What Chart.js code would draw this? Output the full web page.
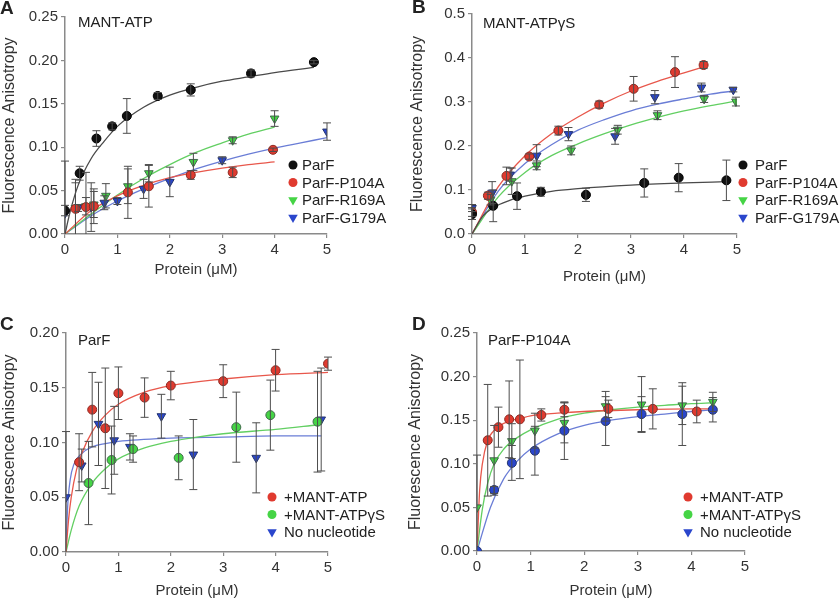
<!DOCTYPE html>
<html>
<head>
<meta charset="utf-8">
<title>Fluorescence anisotropy</title>
<script src="https://cdn.jsdelivr.net/npm/chart.js@4.4.1/dist/chart.umd.min.js"></script>
<style>
  body { margin: 0; background: #fff; }
  #fig { position: relative; width: 840px; height: 600px; font-family: 'Liberation Sans', Arial, sans-serif; color: #222; }
  #fig canvas { position: absolute; }
  .tag { position: absolute; font-size: 15px; line-height: 18px; white-space: nowrap; }
  .letter { position: absolute; font-size: 19px; font-weight: bold; line-height: 20px; }
</style>
</head>
<body>
<div id="fig">
  <canvas id="chartA" width="420" height="300" style="left:0;top:0"></canvas>
  <canvas id="chartB" width="440" height="300" style="left:400px;top:0"></canvas>
  <canvas id="chartC" width="420" height="300" style="left:0;top:300px"></canvas>
  <canvas id="chartD" width="440" height="300" style="left:400px;top:300px"></canvas>
  <div class="letter" style="left:0;top:-2px">A</div>
  <div class="letter" style="left:412px;top:-3px">B</div>
  <div class="letter" style="left:0;top:314px">C</div>
  <div class="letter" style="left:412px;top:314px">D</div>
  <div class="tag" style="left:78px;top:13px">MANT-ATP</div>
  <div class="tag" style="left:483px;top:14px">MANT-ATPγS</div>
  <div class="tag" style="left:78px;top:331px">ParF</div>
  <div class="tag" style="left:488px;top:331px">ParF-P104A</div>
</div>
<script>
// tick labels
const xTicks = ['0', '1', '2', '3', '4', '5'];
const yTicksA = ['0.00', '0.05', '0.10', '0.15', '0.20', '0.25'];
const yTicksB = ['0.0', '0.1', '0.2', '0.3', '0.4', '0.5'];
const yTicksC = ['0.00', '0.05', '0.10', '0.15', '0.20'];
const yTicksD = ['0.00', '0.05', '0.10', '0.15', '0.20', '0.25'];

// ---- panel A : MANT-ATP ----
const aParfX = [0, 0.28, 0.60, 0.90, 1.18, 1.77, 2.40, 3.55, 4.75];
const aParfY = [0.027, 0.070, 0.110, 0.124, 0.136, 0.159, 0.166, 0.185, 0.198];
const aParfErr = [0.006, 0.008, 0.009, 0.004, 0.020, 0.004, 0.007, 0.004, 0.002];
const aParfFitX = [0, 0.1, 0.25, 0.5, 0.75, 1, 1.5, 2, 2.5, 3, 3.5, 4, 4.75];
const aParfFitY = [0, 0.026, 0.056, 0.087, 0.107, 0.124, 0.146, 0.160, 0.169, 0.176, 0.181, 0.186, 0.192];

const aP104X = [0.2, 0.4, 0.55, 1.2, 1.6, 2.4, 3.2, 3.97];
const aP104Y = [0.029, 0.031, 0.032, 0.048, 0.055, 0.068, 0.071, 0.097];
const aP104Err = [0.030, 0.040, 0.020, 0.030, 0.024, 0.005, 0.006, 0.002];
const aP104FitX = [0, 0.5, 1, 1.5, 2, 2.5, 3, 3.5, 4];
const aP104FitY = [0, 0.027, 0.044, 0.056, 0.065, 0.071, 0.076, 0.080, 0.083];

const aR169X = [0.2, 0.4, 0.55, 0.78, 1.2, 1.6, 2.45, 3.2, 4.0];
const aR169Y = [0.030, 0.032, 0.034, 0.044, 0.055, 0.070, 0.083, 0.108, 0.133];
const aR169Err = [0.033, 0.010, 0.015, 0.014, 0.020, 0.010, 0.010, 0.004, 0.009];
const aR169FitX = [0, 0.5, 1, 1.5, 2, 2.5, 3, 3.5, 4];
const aR169FitY = [0, 0.023, 0.045, 0.064, 0.080, 0.094, 0.105, 0.115, 0.123];

const aG179X = [0, 0.25, 0.5, 0.75, 1.0, 1.5, 2.0, 3.0, 5.0];
const aG179Y = [0.024, 0.030, 0.031, 0.036, 0.038, 0.052, 0.060, 0.085, 0.118];
const aG179Err = [0.060, 0.004, 0.028, 0.008, 0.004, 0.011, 0.017, 0.004, 0.010];
const aG179FitX = [0, 0.5, 1, 1.5, 2, 2.5, 3, 3.5, 4, 4.5, 5];
const aG179FitY = [0, 0.021, 0.038, 0.052, 0.064, 0.075, 0.084, 0.092, 0.099, 0.105, 0.111];

// ---- panel B : MANT-ATPγS ----
const bParfX = [0, 0.4, 0.85, 1.3, 2.15, 3.25, 3.9, 4.8];
const bParfY = [0.045, 0.064, 0.086, 0.096, 0.089, 0.116, 0.128, 0.122];
const bParfErr = [0.012, 0.036, 0.030, 0.010, 0.015, 0.032, 0.032, 0.046];
const bParfFitX = [0, 0.2, 0.4, 0.7, 1, 1.5, 2, 3, 4, 4.8];
const bParfFitY = [0, 0.040, 0.060, 0.076, 0.086, 0.097, 0.103, 0.111, 0.116, 0.119];

const bP104X = [0, 0.3, 0.65, 1.08, 1.63, 2.4, 3.05, 3.83, 4.37];
const bP104Y = [0.050, 0.087, 0.132, 0.176, 0.235, 0.294, 0.330, 0.368, 0.384];
const bP104Err = [0.010, 0.008, 0.020, 0.006, 0.010, 0.008, 0.028, 0.035, 0.008];
const bP104FitX = [0, 0.5, 1, 1.5, 2, 2.5, 3, 3.5, 4, 4.37];
const bP104FitY = [0, 0.108, 0.178, 0.228, 0.266, 0.298, 0.325, 0.347, 0.366, 0.380];

const bR169X = [0.35, 0.75, 1.22, 1.87, 2.75, 3.5, 4.38, 4.98];
const bR169Y = [0.078, 0.120, 0.156, 0.190, 0.237, 0.270, 0.307, 0.301];
const bR169Err = [0.012, 0.030, 0.010, 0.010, 0.010, 0.010, 0.008, 0.010];
const bR169FitX = [0, 0.5, 1, 1.5, 2, 2.5, 3, 3.5, 4, 4.5, 4.98];
const bR169FitY = [0, 0.085, 0.140, 0.178, 0.205, 0.228, 0.248, 0.265, 0.280, 0.292, 0.302];

const bG179X = [0, 0.38, 0.72, 1.22, 1.82, 2.7, 3.45, 4.33, 4.93];
const bG179Y = [0.059, 0.094, 0.135, 0.178, 0.227, 0.222, 0.311, 0.333, 0.328];
const bG179Err = [0.008, 0.025, 0.015, 0.025, 0.015, 0.018, 0.015, 0.010, 0.005];
const bG179FitX = [0, 0.5, 1, 1.5, 2, 2.5, 3, 3.5, 4, 4.5, 4.93];
const bG179FitY = [0, 0.098, 0.160, 0.203, 0.236, 0.260, 0.280, 0.295, 0.307, 0.318, 0.325];

// ---- panel C : ParF ----
const cAtpX = [0.25, 0.5, 0.75, 1.0, 1.5, 2.0, 3.0, 4.0, 5.0];
const cAtpY = [0.082, 0.130, 0.113, 0.145, 0.141, 0.152, 0.156, 0.166, 0.172];
const cAtpErr = [0.026, 0.034, 0.055, 0.024, 0.018, 0.013, 0.015, 0.019, 0.006];
const cAtpFitX = [0, 0.05, 0.1, 0.2, 0.3, 0.5, 0.75, 1, 1.5, 2, 3, 4, 5];
const cAtpFitY = [0, 0.030, 0.050, 0.075, 0.090, 0.110, 0.125, 0.135, 0.146, 0.152, 0.158, 0.162, 0.164];

const cGsX = [0.43, 0.87, 1.28, 2.15, 3.25, 3.9, 4.8];
const cGsY = [0.063, 0.084, 0.094, 0.086, 0.114, 0.125, 0.119];
const cGsErr = [0.038, 0.031, 0.012, 0.020, 0.032, 0.032, 0.046];
const cGsFitX = [0, 0.1, 0.25, 0.5, 0.75, 1, 1.5, 2, 2.5, 3, 4, 4.8];
const cGsFitY = [0, 0.020, 0.042, 0.063, 0.076, 0.085, 0.095, 0.101, 0.105, 0.108, 0.112, 0.116];

const cNoneX = [0, 0.3, 0.62, 0.92, 1.22, 1.82, 2.43, 3.63, 4.87];
const cNoneY = [0.050, 0.079, 0.117, 0.102, 0.096, 0.124, 0.089, 0.086, 0.121];
const cNoneErr = [0.060, 0.015, 0.038, 0.031, 0.012, 0.020, 0.032, 0.032, 0.047];
const cNoneFitX = [0, 0.03, 0.08, 0.15, 0.3, 0.5, 0.75, 1, 2, 3, 4, 4.87];
const cNoneFitY = [0, 0.040, 0.066, 0.080, 0.090, 0.096, 0.099, 0.101, 0.104, 0.105, 0.106, 0.106];

// ---- panel D : ParF-P104A ----
const dAtpX = [0.2, 0.4, 0.6, 0.8, 1.2, 1.63, 2.45, 3.28, 4.1];
const dAtpY = [0.127, 0.142, 0.151, 0.151, 0.156, 0.162, 0.163, 0.163, 0.160];
const dAtpErr = [0.064, 0.023, 0.044, 0.068, 0.007, 0.008, 0.010, 0.023, 0.013];
const dAtpFitX = [0, 0.05, 0.1, 0.2, 0.3, 0.4, 0.6, 0.8, 1, 1.5, 2, 3, 4, 4.4];
const dAtpFitY = [0, 0.070, 0.100, 0.127, 0.137, 0.143, 0.149, 0.152, 0.155, 0.158, 0.160, 0.162, 0.163, 0.163];

const dGsX = [0, 0.32, 0.65, 1.08, 1.63, 2.4, 3.07, 3.83, 4.4];
const dGsY = [0.050, 0.104, 0.126, 0.138, 0.147, 0.166, 0.168, 0.167, 0.171];
const dGsErr = [0.060, 0.040, 0.020, 0.020, 0.023, 0.017, 0.032, 0.022, 0.011];
const dGsFitX = [0, 0.1, 0.2, 0.32, 0.5, 0.75, 1, 1.5, 2, 2.5, 3, 3.5, 4, 4.4];
const dGsFitY = [0, 0.048, 0.078, 0.100, 0.117, 0.130, 0.139, 0.151, 0.158, 0.162, 0.165, 0.167, 0.169, 0.170];

const dNoneX = [0, 0.32, 0.65, 1.08, 1.63, 2.4, 3.07, 3.83, 4.4];
const dNoneY = [0, 0.070, 0.101, 0.115, 0.138, 0.149, 0.157, 0.157, 0.162];
const dNoneErr = [0, 0.004, 0.020, 0.028, 0.033, 0.028, 0.020, 0.036, 0.014];
const dNoneFitX = [0, 0.25, 0.5, 0.75, 1, 1.5, 2, 2.5, 3, 3.5, 4, 4.4];
const dNoneFitY = [0, 0.050, 0.083, 0.103, 0.117, 0.134, 0.144, 0.150, 0.154, 0.157, 0.160, 0.162];

Chart.defaults.font.family = "'Liberation Sans', Arial, sans-serif";
Chart.defaults.color = '#333';

// marker looks
const BLACK = { fill: '#111111', edge: '#000000', line: '#4a4a4a' };
const RED = { fill: '#e03a2f', edge: '#8c2a22', line: '#e8574b' };
const GREEN = { fill: '#45d445', edge: '#3f6a4a', line: '#62cf62' };
const BLUE = { fill: '#2a46cc', edge: '#25356e', line: '#6a7dd6' };

function points(label, xs, ys, errs, col, shape, legendShape) {
  const tri = shape === 'triangle';
  return {
    label: label,
    data: xs.map((x, i) => ({ x: x, y: ys[i] })),
    errors: errs,
    showLine: false,
    pointStyle: shape,
    rotation: tri ? 180 : 0,
    pointRadius: tri ? 5 : 4.5,
    pointBorderWidth: 1,
    backgroundColor: col.fill,
    borderColor: col.edge,
    legendShape: legendShape || shape,
    legendFill: col.fill,
    inLegend: true,
    order: 0
  };
}

function fitLine(xs, ys, col) {
  return {
    data: xs.map((x, i) => ({ x: x, y: ys[i] })),
    showLine: true,
    pointRadius: 0,
    borderColor: col.line,
    borderWidth: 1.3,
    cubicInterpolationMode: 'monotone',
    fill: false,
    order: 1
  };
}

// vertical error bars with caps
const errorBars = {
  id: 'errorBars',
  afterDatasetsDraw(chart) {
    const ctx = chart.ctx;
    const ys = chart.scales.y;
    const area = chart.chartArea;
    ctx.save();
    ctx.beginPath();
    ctx.rect(area.left - 6, area.top - 2, area.right - area.left + 12, area.bottom - area.top + 2);
    ctx.clip();
    ctx.strokeStyle = '#4d4d4d';
    ctx.lineWidth = 1;
    chart.data.datasets.forEach((ds, di) => {
      if (!ds.errors) return;
      const meta = chart.getDatasetMeta(di);
      meta.data.forEach((pt, i) => {
        const e = ds.errors[i];
        if (!e) return;
        const v = ds.data[i].y;
        const top = ys.getPixelForValue(v + e);
        const bot = ys.getPixelForValue(v - e);
        ctx.beginPath();
        ctx.moveTo(pt.x, top); ctx.lineTo(pt.x, bot);
        ctx.moveTo(pt.x - 4, top); ctx.lineTo(pt.x + 4, top);
        ctx.moveTo(pt.x - 4, bot); ctx.lineTo(pt.x + 4, bot);
        ctx.stroke();
      });
    });
    ctx.restore();
  }
};

function drawMarker(ctx, shape, x, y) {
  ctx.beginPath();
  if (shape === 'triangle') {
    const r = 5.5;
    ctx.moveTo(x - r * 0.866, y - r * 0.5);
    ctx.lineTo(x + r * 0.866, y - r * 0.5);
    ctx.lineTo(x, y + r);
    ctx.closePath();
  } else {
    ctx.arc(x, y, 4.5, 0, Math.PI * 2);
  }
  ctx.fill();
}

// legend drawn inside the plot area
const insetLegend = {
  id: 'insetLegend',
  afterDraw(chart, args, opts) {
    const ctx = chart.ctx;
    ctx.save();
    ctx.font = '15px ' + Chart.defaults.font.family;
    ctx.textBaseline = 'middle';
    chart.data.datasets.filter(d => d.inLegend).forEach((ds, i) => {
      const y = opts.y + i * opts.gap;
      ctx.fillStyle = ds.legendFill;
      drawMarker(ctx, ds.legendShape, opts.x, y);
      ctx.fillStyle = '#222';
      ctx.fillText(ds.label, opts.x + opts.dx, y + 1);
    });
    ctx.restore();
  }
};

// box: plot area edges in canvas pixels, x title centre, y title offset
function makePanel(id, box, yMax, yStep, yTicks, datasets, legend) {
  const canvas = document.getElementById(id);
  const W = canvas.width;
  let xH = box.titleY + 9 - box.bottom;
  if (box.bottom + xH > 300) xH = 300 - box.bottom;
  const padBottom = 300 - box.bottom - xH;
  const grid = { drawOnChartArea: false, color: '#8a8a8a', tickLength: 4, lineWidth: 1.2 };
  const border = { color: '#8a8a8a', width: 1.5 };
  return new Chart(canvas, {
    type: 'scatter',
    data: { datasets: datasets },
    plugins: [errorBars, insetLegend],
    options: {
      responsive: false,
      animation: false,
      layout: { padding: { left: 0, top: box.top, right: W - box.right, bottom: padBottom } },
      plugins: {
        legend: { display: false },
        tooltip: { enabled: false },
        insetLegend: legend
      },
      scales: {
        x: {
          type: 'linear', min: 0, max: 5,
          afterFit: s => { s.height = xH; },
          ticks: { stepSize: 1, padding: 3, font: { size: 15 }, color: '#333', callback: (v, i) => xTicks[i] },
          grid: grid, border: border,
          title: { display: true, text: 'Protein (μM)', font: { size: 15 }, color: '#333', padding: 0 }
        },
        y: {
          type: 'linear', min: 0, max: yMax,
          afterFit: s => { s.width = box.left; },
          ticks: { stepSize: yStep, padding: 3, font: { size: 15 }, color: '#333', callback: (v, i) => yTicks[i] },
          grid: grid, border: border,
          title: { display: true, text: 'Fluorescence Anisotropy', font: { size: 16 }, color: '#333', padding: { top: box.yPad, bottom: 0 } }
        }
      }
    }
  });
}

makePanel('chartA', { left: 65, right: 327, top: 17, bottom: 234, titleY: 270, yPad: 0 }, 0.25, 0.05, yTicksA, [
  points('ParF', aParfX, aParfY, aParfErr, BLACK, 'circle'),
  points('ParF-P104A', aP104X, aP104Y, aP104Err, RED, 'circle'),
  points('ParF-R169A', aR169X, aR169Y, aR169Err, GREEN, 'triangle'),
  points('ParF-G179A', aG179X, aG179Y, aG179Err, BLUE, 'triangle'),
  fitLine(aParfFitX, aParfFitY, BLACK),
  fitLine(aP104FitX, aP104FitY, RED),
  fitLine(aR169FitX, aR169FitY, GREEN),
  fitLine(aG179FitX, aG179FitY, BLUE)
], { x: 293, y: 165, gap: 17.5, dx: 9 });

makePanel('chartB', { left: 72, right: 337, top: 14, bottom: 234, titleY: 277, yPad: 8 }, 0.5, 0.1, yTicksB, [
  points('ParF', bParfX, bParfY, bParfErr, BLACK, 'circle'),
  points('ParF-P104A', bP104X, bP104Y, bP104Err, RED, 'circle'),
  points('ParF-R169A', bR169X, bR169Y, bR169Err, GREEN, 'triangle'),
  points('ParF-G179A', bG179X, bG179Y, bG179Err, BLUE, 'triangle'),
  fitLine(bParfFitX, bParfFitY, BLACK),
  fitLine(bP104FitX, bP104FitY, RED),
  fitLine(bR169FitX, bR169FitY, GREEN),
  fitLine(bG179FitX, bG179FitY, BLUE)
], { x: 343, y: 165, gap: 17.5, dx: 12 });

makePanel('chartC', { left: 66, right: 328, top: 33, bottom: 252, titleY: 291, yPad: 0 }, 0.2, 0.05, yTicksC, [
  points('+MANT-ATP', cAtpX, cAtpY, cAtpErr, RED, 'circle'),
  points('+MANT-ATPγS', cGsX, cGsY, cGsErr, GREEN, 'circle'),
  points('No nucleotide', cNoneX, cNoneY, cNoneErr, BLUE, 'triangle'),
  fitLine(cAtpFitX, cAtpFitY, RED),
  fitLine(cGsFitX, cGsFitY, GREEN),
  fitLine(cNoneFitX, cNoneFitY, BLUE)
], { x: 272, y: 197, gap: 17.5, dx: 12 });

makePanel('chartD', { left: 77, right: 345, top: 33, bottom: 251, titleY: 291, yPad: 6 }, 0.25, 0.05, yTicksD, [
  points('+MANT-ATP', dAtpX, dAtpY, dAtpErr, RED, 'circle'),
  points('+MANT-ATPγS', dGsX, dGsY, dGsErr, GREEN, 'triangle', 'circle'),
  points('No nucleotide', dNoneX, dNoneY, dNoneErr, BLUE, 'circle', 'triangle'),
  fitLine(dAtpFitX, dAtpFitY, RED),
  fitLine(dGsFitX, dGsFitY, GREEN),
  fitLine(dNoneFitX, dNoneFitY, BLUE)
], { x: 288, y: 197, gap: 17.5, dx: 12 });
</script>
</body>
</html>
